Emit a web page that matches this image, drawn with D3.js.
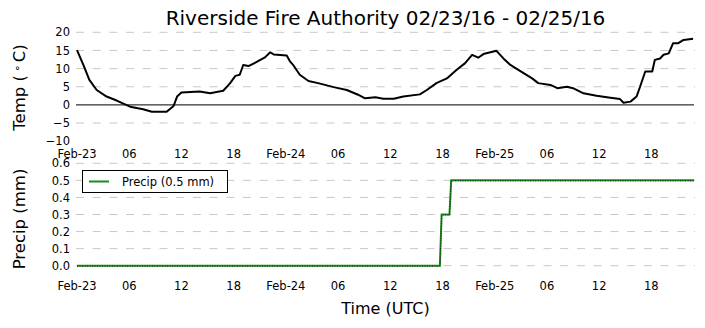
<!DOCTYPE html>
<html lang="en">
<head>
  <meta charset="UTF-8">
  <title>Riverside Fire Authority</title>
  <style>
    body { margin: 0; background: #fff; }
    text { font-family: "DejaVu Sans", sans-serif; fill: #000; }
  </style>
</head>
<body>
  <svg width="705" height="328"></svg>
  <script src="https://d3js.org/d3.v7.min.js"></script>
  <script>

  // hours after 2016-02-23 00:00 UTC
  var tempHours = [0, 0.73, 1.42, 2.26, 3.4, 4.56, 6.1, 7.6, 8.6, 10.3, 11.1, 11.5, 12.0, 14.1, 15.3, 16.8,
    17.6, 18.2, 18.7, 19.1, 19.7, 20.7, 21.6, 22.2, 22.6, 24.1, 24.5, 24.9, 25.6, 26.6, 27.7, 29.5, 31.0,
    32.3, 33.1, 34.3, 35.2, 36.4, 37.5, 39.4, 40.2, 41.3, 42.5, 43.6, 44.6, 45.4, 46.1, 46.7, 48.2, 49.0,
    49.8, 50.9, 52.3, 53.0, 54.4, 55.2, 56.3, 57.0, 58.2, 59.7, 61.3, 62.4, 62.8, 63.6, 64.3, 64.7, 65.3,
    66.1, 66.4, 67.0, 67.4, 68.0, 68.5, 69.1, 69.7, 70.8];
  var tempValues = [15.1, 11, 6.9, 4.1, 2.3, 1.2, -0.5, -1.2, -1.9, -1.9, -0.3, 2.3, 3.4, 3.7, 3.2, 3.9,
    6, 8, 8.3, 11, 10.7, 11.9, 13.1, 14.5, 13.9, 13.6, 11.9, 10.8, 8.3, 6.6, 6, 4.9, 4.1,
    2.8, 1.8, 2.1, 1.7, 1.7, 2.3, 2.9, 4.1, 6, 7.3, 9.6, 11.5, 13.8, 13.0, 14.0, 14.9, 12.8,
    11, 9.4, 7.3, 6, 5.5, 4.6, 5.0, 4.6, 3.2, 2.5, 2.0, 1.6, 0.6, 0.9, 2.3, 5, 9.2,
    9.2, 12.4, 12.8, 13.8, 14.2, 17, 17, 17.9, 18.2];

  var precipHours = [0, 41.7, 41.9, 42.8, 43.0, 70.9];
  var precipValues = [0, 0, 0.3, 0.3, 0.5, 0.5];

  var tempTicks = [-10, -5, 0, 5, 10, 15, 20];
  var precipTicks = [0, 0.1, 0.2, 0.3, 0.4, 0.5, 0.6];

  var title = 'Riverside Fire Authority 02/23/16 - 02/25/16';
  var legendLabel = 'Precip (0.5 mm)';

  var svg = d3.select('svg');
  var start = Date.UTC(2016, 1, 23);
  function toDate(h) { return new Date(start + h * 3600 * 1000); }

  var x = d3.scaleUtc()
    .domain([toDate(0), toDate(70.9)])
    .range([77, 694]);

  var yT = d3.scaleLinear().domain([-10, 20]).range([141.2, 32.3]);
  var yP = d3.scaleLinear().domain([0, 0.6]).range([265.7, 163.3]);

  var hourTicks = d3.utcHour.every(6).range(toDate(0), toDate(70.9));
  function fmtTick(d) {
    return d.getUTCHours() === 0 ? d3.utcFormat('%b-%d')(d) : d3.utcFormat('%H')(d);
  }

  function panel(y, ticks, labelFmt, gridSkip, xLabelY) {
    var g = svg.append('g');
    g.selectAll('line.grid')
      .data(ticks.filter(function(t) { return gridSkip.indexOf(t) < 0; }))
      .enter().append('line')
      .attr('x1', 76).attr('x2', 695)
      .attr('y1', function(d) { return y(d); })
      .attr('y2', function(d) { return y(d); })
      .attr('stroke', '#c8c8c8')
      .attr('stroke-width', 1)
      .attr('stroke-dasharray', '8,8.7');
    g.selectAll('text.yt')
      .data(ticks).enter().append('text')
      .attr('x', 70)
      .attr('y', function(d) { return y(d); })
      .attr('dy', '0.36em')
      .attr('text-anchor', 'end')
      .style('font-size', '11.5px')
      .text(labelFmt);
    g.selectAll('text.xt')
      .data(hourTicks).enter().append('text')
      .attr('x', function(d) { return x(d); })
      .attr('y', xLabelY)
      .attr('text-anchor', 'middle')
      .style('font-size', '11.5px')
      .text(fmtTick);
    return g;
  }

  // top panel: temperature
  var gT = panel(yT, tempTicks, function(d) { return d < 0 ? '\u2212' + Math.abs(d) : d; }, [-10, 0], 157.5);
  gT.append('line')
    .attr('x1', 76).attr('x2', 694)
    .attr('y1', yT(0)).attr('y2', yT(0))
    .attr('stroke', '#000').attr('stroke-width', 1);

  var tempLine = d3.line()
    .x(function(d, i) { return x(toDate(tempHours[i])); })
    .y(function(d) { return yT(d); });
  gT.append('path')
    .attr('d', tempLine(tempValues))
    .attr('fill', 'none')
    .attr('stroke', '#000')
    .attr('stroke-width', 2)
    .attr('stroke-linejoin', 'round');

  // bottom panel: precipitation
  var gP = panel(yP, precipTicks, function(d) { return d.toFixed(1); }, [], 290);
  var precipLine = d3.line()
    .x(function(d, i) { return x(toDate(precipHours[i])); })
    .y(function(d) { return yP(d); });
  gP.append('path')
    .attr('d', precipLine(precipValues))
    .attr('fill', 'none')
    .attr('stroke', '#1a8a1a')
    .attr('stroke-width', 2);
  gP.append('path')
    .attr('d', precipLine(precipValues))
    .attr('fill', 'none')
    .attr('stroke', '#222')
    .attr('stroke-width', 1)
    .attr('stroke-dasharray', '1,1.5')
    .attr('transform', 'translate(0,0.5)');

  // legend
  var lg = svg.append('g');
  lg.append('rect')
    .attr('x', 82.5).attr('y', 170.5).attr('width', 145).attr('height', 22)
    .attr('fill', '#fff').attr('stroke', '#000').attr('stroke-width', 1);
  lg.append('line')
    .attr('x1', 89).attr('x2', 109).attr('y1', 181.5).attr('y2', 181.5)
    .attr('stroke', '#1a8a1a').attr('stroke-width', 2);
  lg.append('text')
    .attr('x', 122).attr('y', 185.8)
    .style('font-size', '11.5px')
    .text(legendLabel);

  // titles
  svg.append('text')
    .attr('x', 385.5).attr('y', 25)
    .attr('text-anchor', 'middle')
    .style('font-size', '20px')
    .text(title);

  var yl = svg.append('text')
    .attr('transform', 'translate(25,87.5) rotate(-90)')
    .attr('text-anchor', 'middle')
    .style('font-size', '16.5px');
  yl.append('tspan').text('Temp (');
  yl.append('tspan').attr('dx', 3).attr('baseline-shift', '35%').style('font-size', '11px').text('\u2218');
  yl.append('tspan').attr('dx', 3).attr('baseline-shift', '0').text('C)');

  svg.append('text')
    .attr('transform', 'translate(25,219) rotate(-90)')
    .attr('text-anchor', 'middle')
    .style('font-size', '16.5px')
    .text('Precip (mm)');

  svg.append('text')
    .attr('x', 385.5).attr('y', 314)
    .attr('text-anchor', 'middle')
    .style('font-size', '16px')
    .text('Time (UTC)');

  </script>
</body>
</html>
